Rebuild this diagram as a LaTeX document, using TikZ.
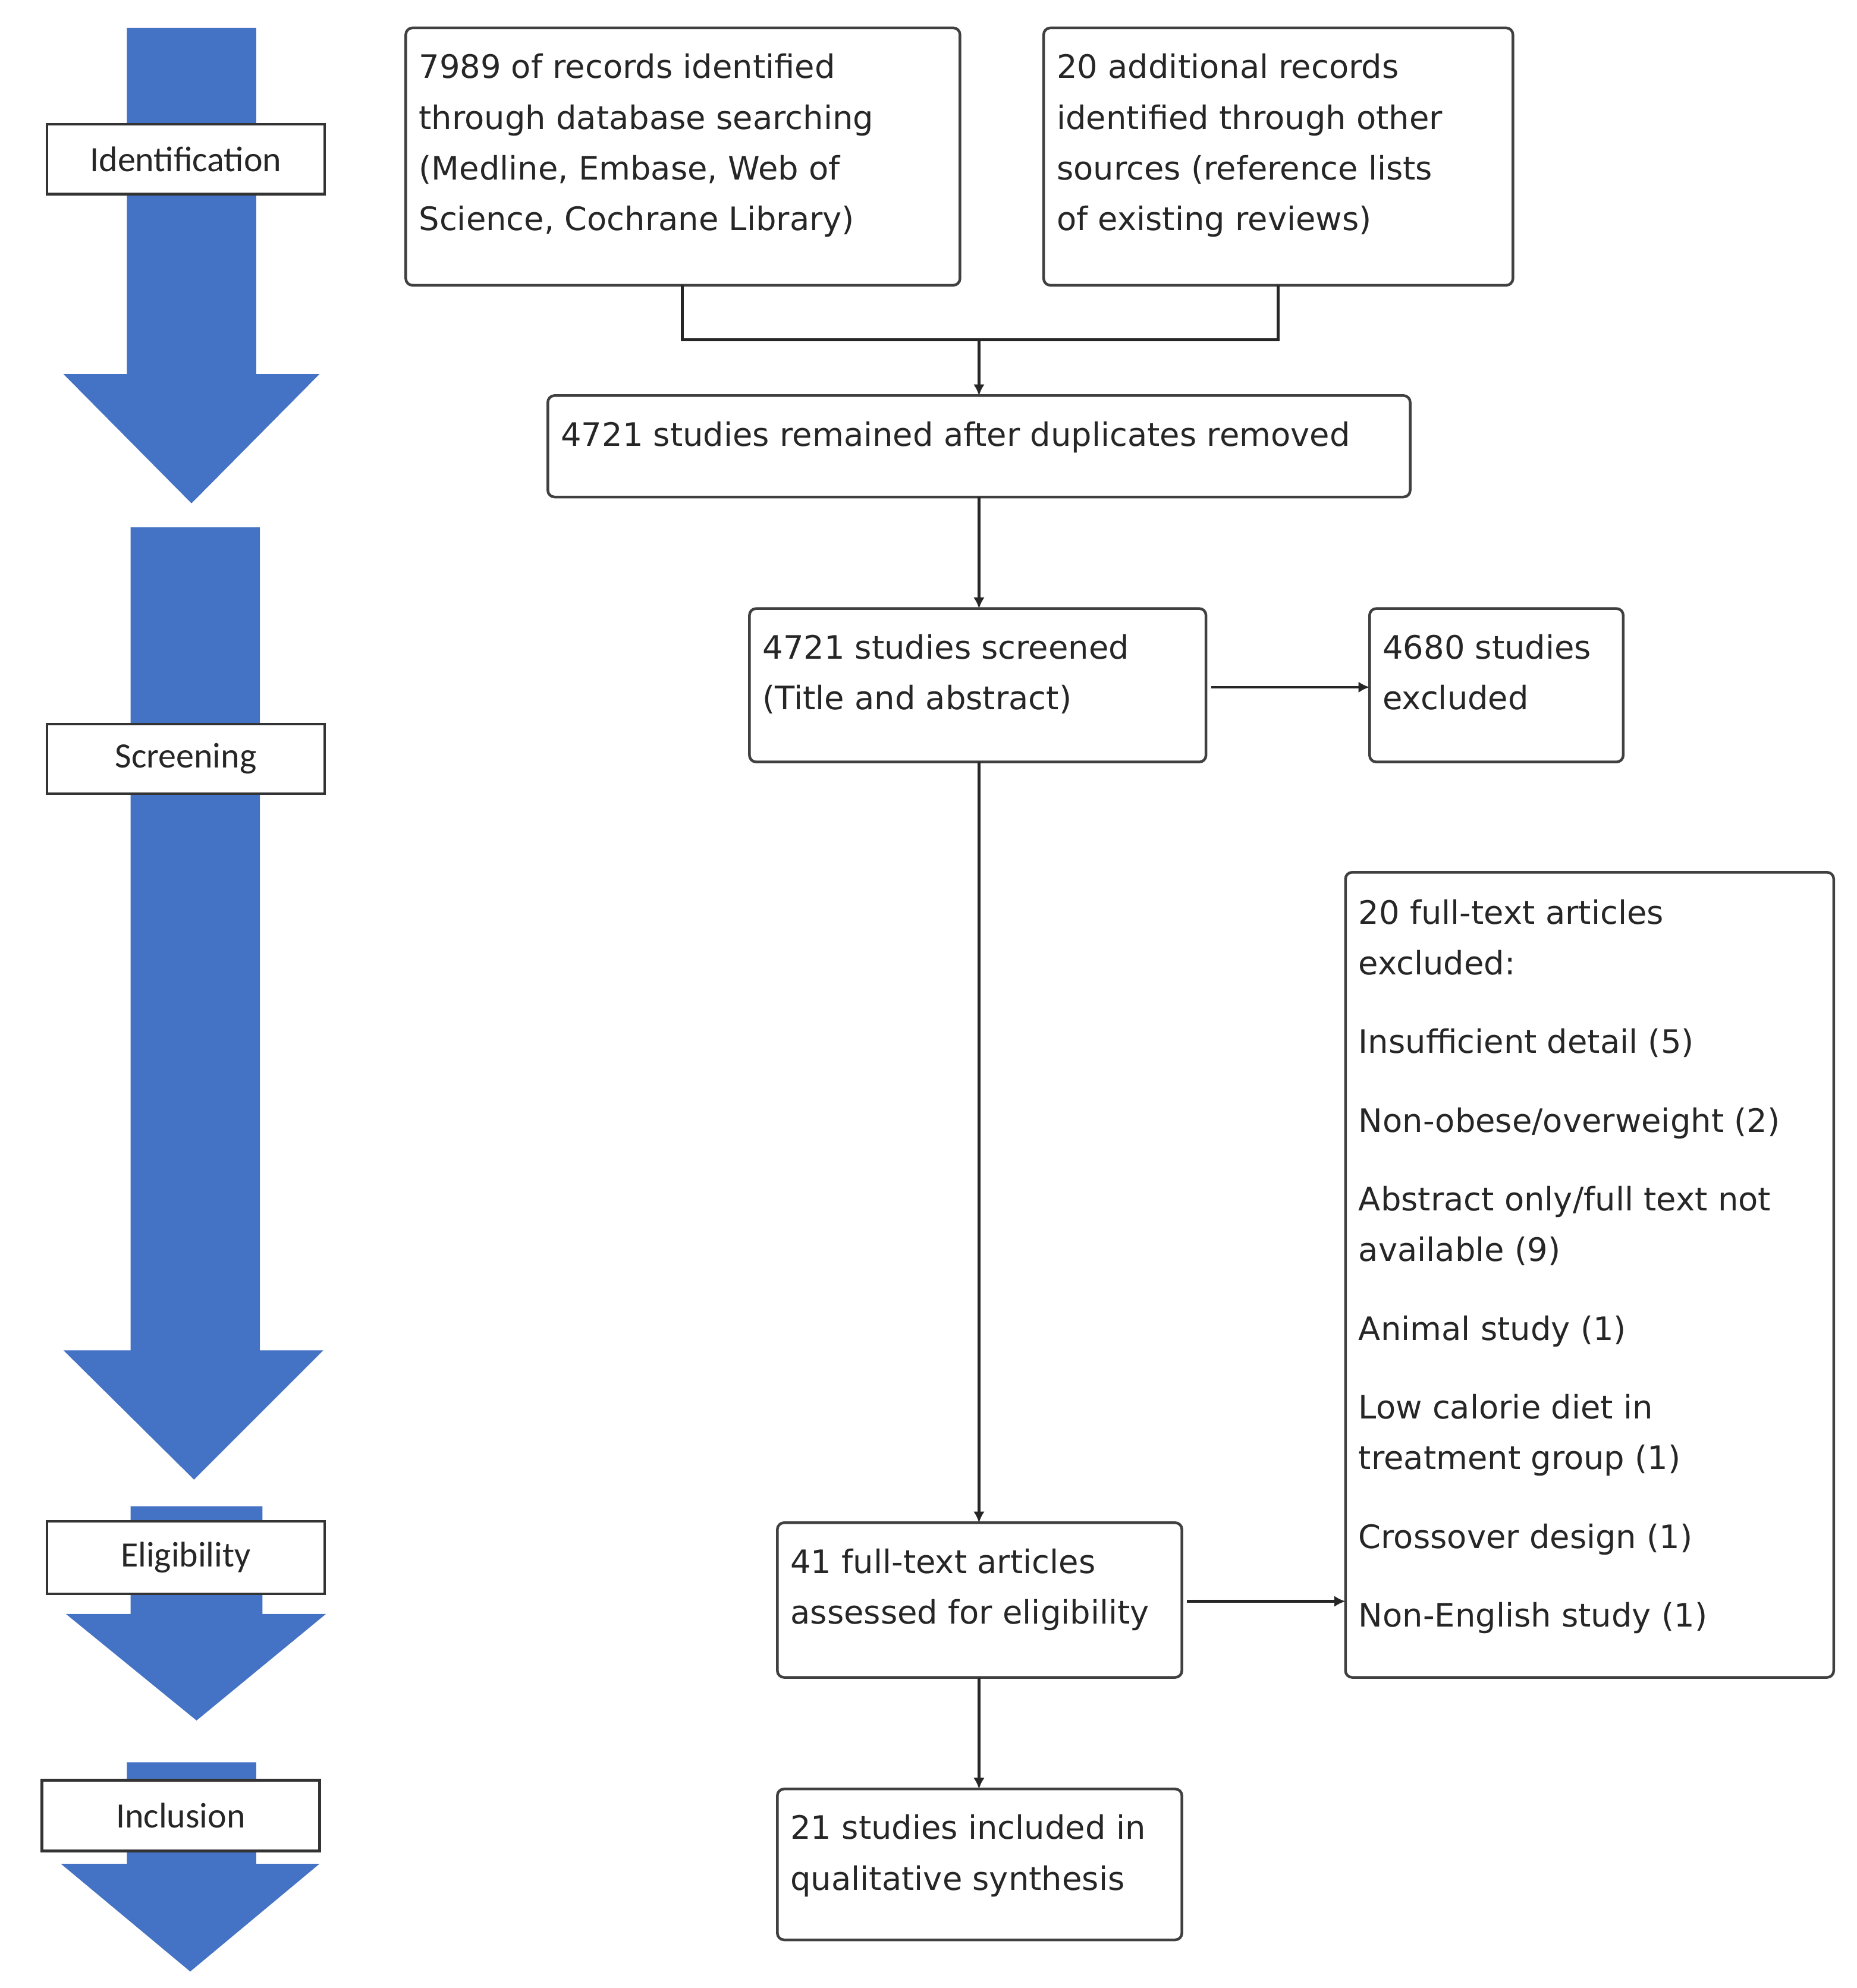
\documentclass[tikz,border=0pt]{standalone}
\usepackage{fontspec}
\setmainfont{DejaVu Sans}
\newfontfamily\labfont{Carlito}
\usetikzlibrary{arrows.meta}
\definecolor{arrblue}{HTML}{4472C4}
\definecolor{lineg}{HTML}{404040}
\begin{document}
\begin{tikzpicture}[x=0.02cm,y=-0.02cm,
  box/.style={draw=lineg,line width=1.2pt,rounded corners=3pt},
  txt/.style={anchor=north west,align=left,inner sep=0pt,font=\fontsize{14.5}{22.8}\selectfont,text=black!85},
  lab/.style={draw=black!80,line width=1.2pt,fill=white,font=\labfont\fontsize{16}{20}\selectfont,text=black!85},
  con/.style={draw=black!85,line width=1.2pt},
  arr/.style={con,-{Latex[length=5pt,width=5pt]}},
  big/.style={fill=arrblue}]
\useasboundingbox (0,0) rectangle (1464,1568);
% blue arrows
\fill[big] (100,22)--(202,22)--(202,295)--(252,295)--(151,397)--(50,295)--(100,295)--cycle;
\fill[big] (103,416)--(205,416)--(205,1065)--(255,1065)--(153,1167)--(50,1065)--(103,1065)--cycle;
\fill[big] (103,1188)--(207,1188)--(207,1273)--(257,1273)--(155,1357)--(52,1273)--(103,1273)--cycle;
\fill[big] (100,1390)--(202,1390)--(202,1470)--(252,1470)--(150,1555)--(48,1470)--(100,1470)--cycle;
\node[lab,minimum width=4.38cm,minimum height=1.1cm] (l1) at (146.5,125.5) {Identification};
\node[lab,minimum width=4.38cm,minimum height=1.1cm] (l2) at (146.5,598.5) {Screening};
\node[lab,minimum width=4.38cm,minimum height=1.14cm] (l3) at (146.5,1228.5) {Eligibility};
\node[lab,minimum width=4.38cm,minimum height=1.12cm] (l4) at (142.5,1432) {Inclusion};
% boxes
\draw[box] (320,22) rectangle (757,225); \coordinate (Ab) at (538,225);
\node[txt] (A) at (330,42) {7989 of records identified\\through database searching\\(Medline, Embase, Web of\\Science, Cochrane Library)};
\draw[box] (823,22) rectangle (1193,225); \coordinate (Bb) at (1008,225);
\node[txt] (B) at (833,42) {20 additional records\\identified through other\\sources (reference lists\\of existing reviews)};
\draw[box] (432,312) rectangle (1112,392);
\coordinate (Ct) at (772,312); \coordinate (Cb) at (772,392);
\node[txt] (C) at (442,332) {4721 studies remained after duplicates removed};
\draw[box] (591,480) rectangle (951,601);
\coordinate (Dt) at (772,480); \coordinate (Db) at (772,601); \coordinate (Dr) at (955,542);
\node[txt] (D) at (601,500) {4721 studies screened\\(Title and abstract)};
\draw[box] (1080,480) rectangle (1280,601); \coordinate (El) at (1080,542);
\node[txt] (E) at (1090,500) {4680 studies\\excluded};
\draw[box] (1061,688) rectangle (1446,1323); \coordinate (Fl) at (1061,1263);
\node[txt] (F) at (1071,709) {20 full-text articles\\excluded:\\[12.5pt]Insufficient detail (5)\\[12.5pt]Non-obese/overweight (2)\\[12.5pt]Abstract only/full text not\\available (9)\\[12.5pt]Animal study (1)\\[12.5pt]Low calorie diet in\\treatment group (1)\\[12.5pt]Crossover design (1)\\[12.5pt]Non-English study (1)};
\draw[box] (613,1201) rectangle (932,1323);
\coordinate (Gt) at (772,1201); \coordinate (Gb) at (772,1323); \coordinate (Gr) at (936,1263);
\node[txt] (G) at (623,1221) {41 full-text articles\\assessed for eligibility};
\draw[box] (613,1411) rectangle (932,1530); \coordinate (Ht) at (772,1411);
\node[txt] (H) at (623,1431) {21 studies included in\\qualitative synthesis};
% connectors
\coordinate (j) at (772,268);
\draw[con] (Ab) |- (j) -| (Bb);
\draw[arr] (j) -- (Ct);
\draw[arr] (Cb) -- (Dt);
\draw[arr] (Dr) -- (El);
\draw[arr] (Db) -- (Gt);
\draw[arr] (Gr) -- (Fl);
\draw[arr] (Gb) -- (Ht);
\end{tikzpicture}
\end{document}
